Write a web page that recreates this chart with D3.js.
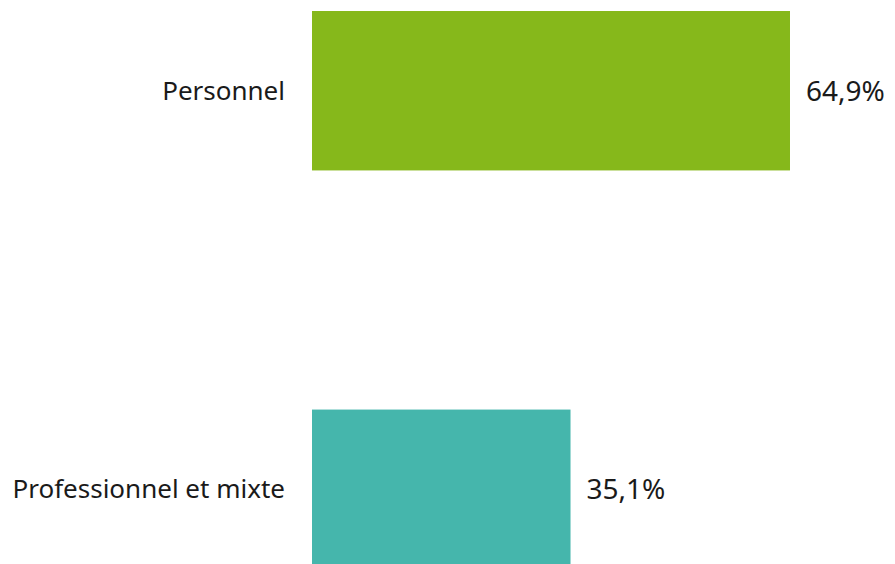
<!DOCTYPE html>
<html>
<head>
<meta charset="utf-8">
<script src="https://cdn.jsdelivr.net/npm/d3@7"></script>
<style>
  body { margin: 0; background: #fff; }
  text { font-family: "Noto Sans", sans-serif; fill: #1a1a1a; }
</style>
</head>
<body>
<script>
var categories = ["Personnel", "Professionnel et mixte"];
var values = [64.9, 35.1];
var valueLabels = ["64,9%", "35,1%"];
var colors = ["#86b81b", "#45b6ac"];

var margin = {top: 11, right: 0, bottom: 0, left: 312},
    width = 895 - margin.left - margin.right,
    height = 569 - margin.top - margin.bottom;

var svg = d3.select("body").append("svg")
    .attr("width", 895)
    .attr("height", 564);

var g = svg.append("g")
    .attr("transform", "translate(" + margin.left + "," + margin.top + ")");

// 64.9 -> ~478px
var x = d3.scaleLinear()
    .domain([0, 100])
    .range([0, 736.5]);

var y = d3.scaleBand()
    .domain(categories)
    .range([0, height])
    .paddingInner(0.6)
    .paddingOuter(0);

var rows = g.selectAll("g.row")
    .data(categories)
  .enter().append("g")
    .attr("class", "row");

rows.append("rect")
    .attr("x", 0)
    .attr("y", function(d) { return y(d); })
    .attr("width", function(d, i) { return x(values[i]); })
    .attr("height", y.bandwidth())
    .style("fill", function(d, i) { return colors[i]; });

rows.append("text")
    .attr("x", -27)
    .attr("y", function(d) { return y(d) + y.bandwidth() / 2; })
    .attr("dy", "0.35em")
    .attr("text-anchor", "end")
    .style("font-size", "26px")
    .text(function(d) { return d; });

rows.append("text")
    .attr("x", function(d, i) { return x(values[i]) + 16; })
    .attr("y", function(d) { return y(d) + y.bandwidth() / 2; })
    .attr("dy", "0.35em")
    .style("font-size", "28px")
    .text(function(d, i) { return valueLabels[i]; });
</script>
</body>
</html>
